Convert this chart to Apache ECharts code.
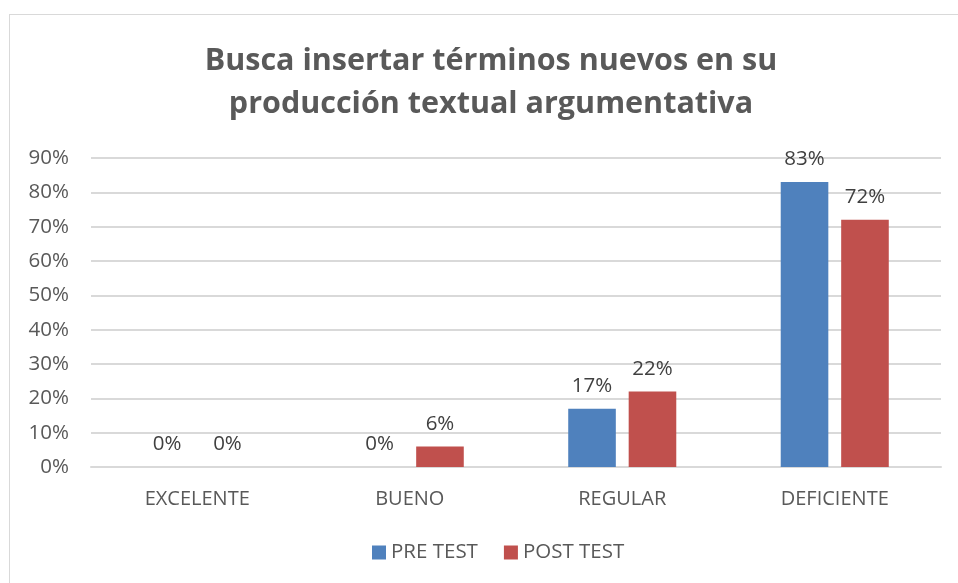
<!DOCTYPE html>
<html lang="es">
  <head>
    <meta charset="UTF-8" />
    <title>Busca insertar términos nuevos</title>
    <script src="https://cdn.jsdelivr.net/npm/echarts@6.0.0/dist/echarts.min.js"></script>
    <style>
      body { margin: 0; background: #fff; }
      #frame { position: absolute; left: 9px; top: 14px; width: 960px; height: 580px; border: 1px solid #d9d9d9; }
      #chart { position: absolute; left: 0; top: 0; width: 958px; height: 583px; }
    </style>
  </head>
  <body>
    <div id="frame"></div>
    <div id="chart"></div>
    <script>
      // datos
      var categorias = ['EXCELENTE', 'BUENO', 'REGULAR', 'DEFICIENTE']
      var preTest = [0, 0, 17, 83]
      var postTest = [0, 6, 22, 72]

      var fuente = 'Open Sans'
      var chart = echarts.init(document.getElementById('chart'))

      var etiqueta = {
        show: true,
        position: 'top',
        distance: 12,
        color: '#404040',
        fontSize: 20.5,
        fontFamily: fuente,
        formatter: function (p) { return p.value + '%' }
      }

      chart.setOption({
        animation: false,
        title: {
          text: 'Busca insertar términos nuevos en su\nproducción textual argumentativa',
          left: 486,
          top: 35,
          textAlign: 'center',
          textStyle: {
            color: '#595959',
            fontSize: 30.5,
            fontWeight: 'bold',
            fontFamily: fuente,
            lineHeight: 43
          }
        },
        legend: {
          bottom: 15,
          left: 367,
          itemWidth: 14,
          itemHeight: 14,
          itemGap: 26,
          icon: 'rect',
          textStyle: { color: '#595959', fontSize: 20.5, fontFamily: fuente }
        },
        grid: { left: 91, right: 17, top: 158, bottom: 116 },
        xAxis: {
          type: 'category',
          data: categorias,
          axisLine: { lineStyle: { color: '#d9d9d9', width: 2 } },
          axisTick: { show: false },
          axisLabel: { color: '#595959', fontSize: 20, fontFamily: fuente, margin: 22 }
        },
        yAxis: {
          type: 'value',
          min: 0,
          max: 90,
          interval: 10,
          axisLabel: { color: '#595959', fontSize: 20.5, fontFamily: fuente, margin: 22, formatter: '{value}%' },
          splitLine: { lineStyle: { color: '#d9d9d9', width: 2 } },
          axisLine: { show: false },
          axisTick: { show: false }
        },
        series: [
          {
            name: 'PRE TEST',
            type: 'bar',
            data: preTest,
            itemStyle: { color: '#4f81bd' },
            barWidth: '22.4%',
            barGap: '27%',
            label: etiqueta
          },
          {
            name: 'POST TEST',
            type: 'bar',
            data: postTest,
            itemStyle: { color: '#c0504d' },
            barWidth: '22.4%',
            label: etiqueta
          }
        ]
      })
    </script>
  </body>
</html>
